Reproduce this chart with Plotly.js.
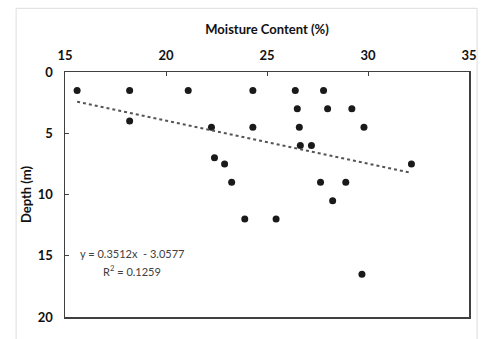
<!DOCTYPE html>
<html>
<head>
<meta charset="utf-8">
<script src="https://cdn.plot.ly/plotly-3.0.1.min.js"></script>
<style>html,body{margin:0;padding:0;background:#fff;}#chart{width:485px;height:339px;}</style>
</head>
<body>
<div id="chart"></div>
<script>
// Moisture content (%) and depth (m)
const moisture = [15.6, 18.2, 21.1, 24.3, 26.4, 27.8,
                  26.5, 28.0, 29.2,
                  18.2,
                  22.25, 24.3, 26.6, 29.8,
                  26.65, 27.2,
                  22.4,
                  22.9, 32.15,
                  23.25, 27.65, 28.9,
                  28.25,
                  23.9, 25.45,
                  29.7];
const depth = [1.5, 1.5, 1.5, 1.5, 1.5, 1.5,
               3, 3, 3,
               4,
               4.5, 4.5, 4.5, 4.5,
               6, 6,
               7,
               7.5, 7.5,
               9, 9, 9,
               10.5,
               12, 12,
               16.5];
// Linear trendline shown on the chart: y = 0.3512x - 3.0577
const trendSlope = [0.3512];
const trendIntercept = [-3.0577];
const trendX = [Math.min(...moisture), Math.max(...moisture)];
const trendY = trendX.map(x => trendSlope[0] * x + trendIntercept[0]);
const xTicks = [15, 20, 25, 30, 35];
const yTicks = [0, 5, 10, 15, 20];
const eqText = 'y = 0.3512x  - 3.0577';
const r2Text = 'R<sup>2</sup> = 0.1259';

const font = 'Lato, "Open Sans", sans-serif';
const boldFont = {family: font, size: 13, color: '#111111', weight: 'bold'};
const data = [
  {x: moisture, y: depth, type: 'scatter', mode: 'markers',
   marker: {color: '#1a1a1a', size: 7}, hoverinfo: 'skip'},
  {x: trendX, y: trendY, type: 'scatter', mode: 'lines',
   line: {color: '#555555', width: 2, dash: 'dot'}, hoverinfo: 'skip'}
];
const layout = {
  width: 485, height: 339,
  margin: {l: 65, r: 16, t: 72, b: 22},
  paper_bgcolor: '#ffffff', plot_bgcolor: '#ffffff',
  showlegend: false,
  font: {family: font, color: '#111111'},
  xaxis: {
    side: 'top', range: [15, 35], tickvals: xTicks,
    ticks: 'inside', ticklen: 4, tickcolor: '#404040',
    showline: true, mirror: true, linecolor: '#404040', linewidth: 1.5,
    showgrid: false, zeroline: false,
    tickfont: boldFont,
    ticklabelstandoff: 5,
    title: {text: 'Moisture Content (%)', font: boldFont, standoff: 9}
  },
  yaxis: {
    range: [20, 0], tickvals: yTicks,
    ticks: 'inside', ticklen: 4, tickcolor: '#404040',
    showline: true, mirror: true, linecolor: '#404040', linewidth: 1.5,
    showgrid: false, zeroline: false,
    tickfont: boldFont,
    ticklabelstandoff: 8,
    title: {text: 'Depth (m)', font: boldFont, standoff: 3}
  },
  annotations: [
    {xref: 'x', yref: 'y', x: 18.3, y: 14.8, text: eqText, showarrow: false,
     font: {family: font, size: 11, color: '#404040'}},
    {xref: 'x', yref: 'y', x: 18.3, y: 16.2, text: r2Text, showarrow: false,
     font: {family: font, size: 11, color: '#404040'}}
  ],
  shapes: [
    {type: 'rect', xref: 'paper', yref: 'paper', layer: 'below',
     x0: -0.121, x1: 1.02, y0: -0.1, y1: 1.26,
     line: {color: '#dddddd', width: 1}}
  ]
};
Plotly.newPlot('chart', data, layout, {displayModeBar: false, staticPlot: true});
</script>
</body>
</html>
